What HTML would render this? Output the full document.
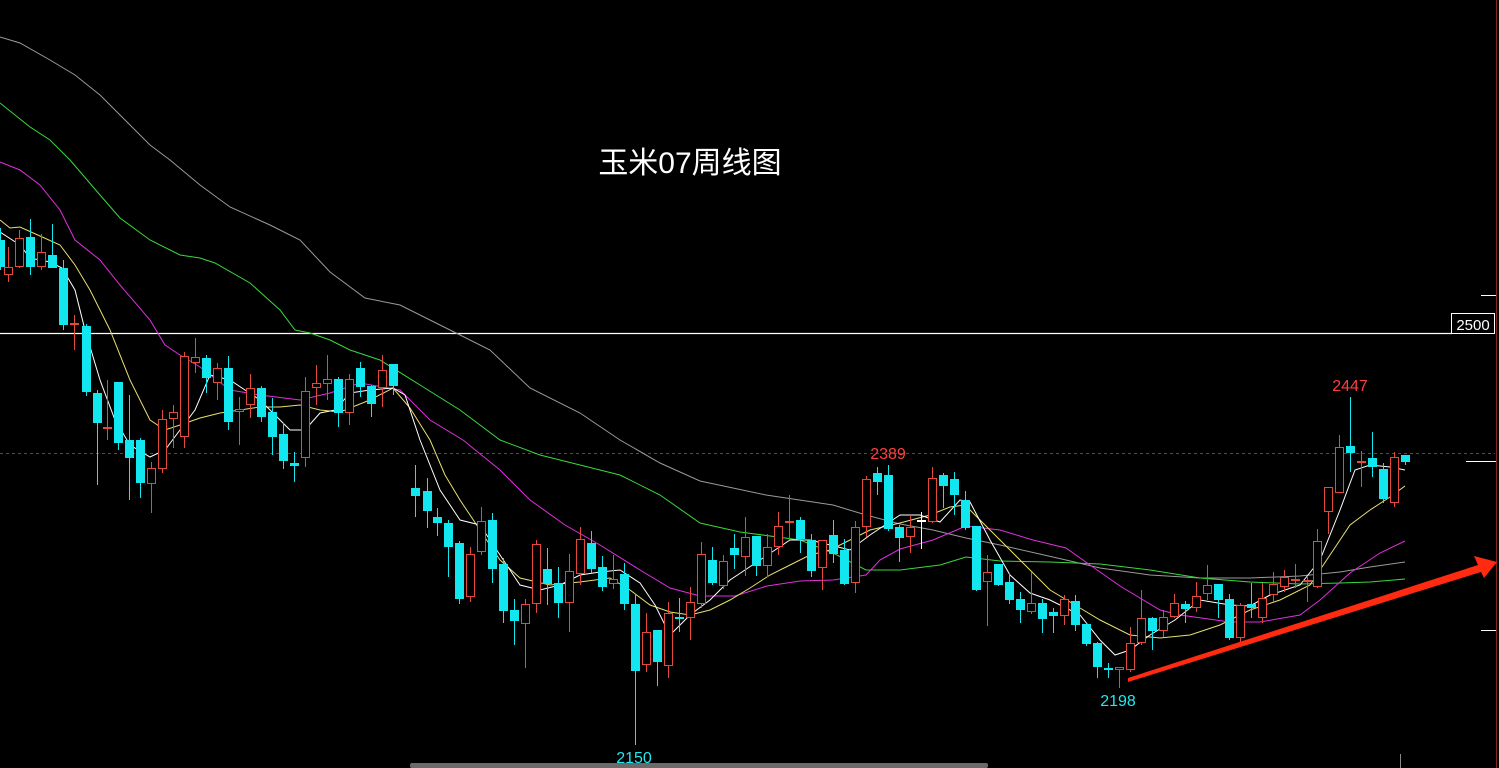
<!DOCTYPE html>
<html><head><meta charset="utf-8">
<style>
html,body{margin:0;padding:0;background:#000;width:1499px;height:768px;overflow:hidden}
svg{display:block}
text{font-family:"Liberation Sans","Noto Sans CJK SC",sans-serif}
</style></head>
<body>
<svg id="s" width="1499" height="768" viewBox="0 0 1499 768" xmlns="http://www.w3.org/2000/svg">
<rect width="1499" height="768" fill="#000"/>
<line x1="0" y1="453.5" x2="1495" y2="453.5" stroke="#b82020" stroke-dasharray="3,3" stroke-width="1"/>
<line x1="0" y1="333.5" x2="1452" y2="333.5" stroke="#fff" stroke-width="1.3"/>
<rect x="1451.5" y="313.5" width="43" height="20" fill="#000" stroke="#fff"/>
<text x="1473" y="330" fill="#fff" font-size="15" text-anchor="middle">2500</text>
<line x1="1496.5" y1="0" x2="1496.5" y2="768" stroke="#8a2020" stroke-width="1"/>
<line x1="1481" y1="295.5" x2="1496" y2="295.5" stroke="#fff"/>
<line x1="1466" y1="461.5" x2="1496" y2="461.5" stroke="#fff"/>
<line x1="1481" y1="630.5" x2="1496" y2="630.5" stroke="#fff"/>
<line x1="1400.5" y1="754" x2="1400.5" y2="768" stroke="#888"/>
<rect x="410" y="763" width="578" height="5" fill="#6a6a6a" rx="2"/>
<g id="ma" fill="none" stroke-width="1"></g>
<g id="cd"></g>
<polygon points="1128,682 1128,678 1478,565 1474,556 1497,562 1484,578 1481,572" fill="#ff2a10"/>
<text x="690" y="173" fill="#fff" font-size="30" text-anchor="middle">玉米07周线图</text>
<text x="888" y="459" fill="#ff4040" font-size="16" text-anchor="middle">2389</text>
<text x="1350" y="391" fill="#ff4040" font-size="16" text-anchor="middle">2447</text>
<text x="1118" y="706" fill="#20e8f0" font-size="16" text-anchor="middle">2198</text>
<text x="634" y="763" fill="#20e8f0" font-size="16" text-anchor="middle">2150</text>
</svg>
<script>
var NS="http://www.w3.org/2000/svg";
var D=[
[0,240,267,228,270,'c'],[8,267,275,247,282,'r'],[19,238,267,230,268,'r'],[30,237,267,219,275,'c'],[41,252,267,234,270,'r'],[52,255,268,224,268,'c'],
[63,268,325,260,330,'c'],[74,323,325,315,350,'r'],[86,326,392,324,396,'c'],[97,393,423,390,485,'c'],[107,427,429,380,440,'r'],[118,382,443,382,450,'c'],
[129,440,458,395,500,'c'],[140,440,483,438,498,'c'],[151,468,484,462,513,'r'],[162,419,469,410,473,'r'],[173,412,419,405,448,'r'],[184,356,437,352,448,'r'],
[195,357,363,338,373,'r'],[206,358,378,355,393,'c'],[217,368,383,363,400,'r'],[228,368,422,356,430,'c'],[239,409,412,397,445,'r'],[250,388,405,374,418,'r'],
[261,388,417,386,422,'c'],[272,412,437,398,455,'c'],[283,434,461,423,469,'c'],[294,463,466,452,482,'c'],[305,391,458,377,467,'r'],[316,383,388,365,405,'r'],
[327,379,384,355,400,'r'],[338,379,413,377,427,'c'],[349,379,413,374,425,'r'],[360,368,387,362,397,'c'],[371,386,404,385,417,'c'],[382,370,388,355,407,'r'],
[393,364,386,364,395,'c'],
[415,488,496,465,517,'c'],[427,491,511,478,528,'c'],[437,517,523,508,536,'c'],[448,523,547,520,577,'c'],[459,543,599,541,604,'c'],[470,554,597,547,602,'r'],
[481,521,552,507,555,'r'],[492,520,569,513,583,'c'],[503,564,611,558,623,'c'],[514,610,621,599,645,'c'],[525,604,624,599,668,'r'],[536,544,604,540,613,'r'],
[547,569,584,548,605,'c'],[558,583,603,567,618,'c'],[569,571,603,554,632,'r'],[580,539,574,527,585,'r'],[591,543,569,531,573,'c'],[602,567,587,556,591,'c'],
[613,579,584,555,589,'r'],[624,574,604,563,610,'c'],[635,604,671,595,745,'c'],[646,632,665,613,672,'r'],[657,630,662,630,686,'c'],[668,613,666,602,678,'r'],
[679,617,619,598,632,'c'],[690,602,618,587,640,'r'],[701,554,604,542,608,'r'],[712,560,583,547,585,'c'],[723,561,586,555,589,'r'],[734,548,555,534,569,'c'],
[745,537,557,517,576,'r'],[756,536,566,536,576,'c'],[767,547,566,534,577,'r'],[778,526,547,512,555,'r'],[789,521,523,495,540,'r'],[800,520,539,517,553,'c'],
[811,540,571,534,577,'c'],[822,540,568,540,590,'r'],[833,535,554,520,563,'c'],[844,550,584,539,585,'c'],[855,527,583,521,593,'r'],[866,479,527,476,537,'r'],
[877,473,482,467,495,'c'],[888,475,529,465,531,'c'],[899,527,538,525,562,'c'],[910,527,537,515,553,'r'],[921,520,522,512,549,'w'],[932,478,522,467,523,'r'],
[943,475,486,473,508,'c'],[954,479,495,472,515,'c'],[965,500,528,491,530,'c'],[976,526,590,526,591,'c'],[987,572,582,555,626,'r'],[998,564,585,564,586,'c'],
[1009,582,600,573,604,'c'],[1020,599,610,592,623,'c'],[1031,603,612,572,614,'r'],[1042,603,619,599,633,'c'],[1053,612,616,608,633,'c'],[1064,599,616,595,625,'r'],
[1075,601,625,595,631,'c'],[1086,624,644,623,646,'c'],[1097,643,667,642,678,'c'],[1108,668,670,663,678,'c'],[1119,667,670,667,688,'r'],[1130,643,670,627,672,'r'],
[1141,618,643,590,645,'r'],[1152,618,631,617,650,'c'],[1163,617,631,610,637,'r'],[1174,603,617,594,618,'r'],[1185,604,609,601,623,'c'],[1196,596,608,582,612,'r'],
[1207,585,594,565,600,'r'],[1218,584,600,584,618,'c'],[1229,599,638,594,640,'c'],[1240,605,638,603,643,'r'],[1251,604,608,583,618,'c'],[1262,598,618,583,623,'r'],
[1273,584,595,572,602,'r'],[1284,577,587,570,592,'r'],[1295,579,581,564,588,'r'],[1307,580,582,577,602,'r'],[1317,541,587,529,588,'r'],[1328,487,512,487,534,'r'],
[1339,447,493,435,493,'r'],[1350,446,453,397,472,'c'],[1361,461,463,451,487,'r'],[1372,458,467,432,477,'c'],[1383,469,499,463,503,'c'],[1394,457,503,452,507,'r'],
[1405,455,462,455,465,'c']];
var cd=document.getElementById('cd');
function el(t,a){var e=document.createElementNS(NS,t);for(var k in a)e.setAttribute(k,a[k]);cd.appendChild(e);}
D.forEach(function(d){var x=d[0],t=d[1],b=d[2],h=d[3],l=d[4],c=d[5];
var col=c=='r'?'#e4493c':(c=='w'?'#fff':'#12e6ee');
el('line',{x1:x+.5,x2:x+.5,y1:h,y2:l,stroke:col,'stroke-width':1});
if(b-t<2){el('rect',{x:x-4,y:t,width:9,height:2,fill:col});}
else if(c=='r'){el('rect',{x:x-3.5,y:t+.5,width:8,height:b-t-1,fill:'#000',stroke:col,'stroke-width':1});}
else{el('rect',{x:x-4,y:t,width:9,height:b-t,fill:col});}
});
var MA={
'#9a9a9a':[[0,37],[20,43],[50,60],[75,75],[100,95],[125,120],[150,145],[170,160],[200,185],[230,207],[270,225],[300,240],[330,272],[365,298],[400,305],[430,320],[460,335],[490,350],[530,388],[580,413],[620,440],[660,463],[700,481],[766,495],[833,505],[866,515],[900,524],[933,530],[966,538],[1000,545],[1066,560],[1100,568],[1150,575],[1200,578],[1250,578],[1300,576],[1340,572],[1370,567],[1405,562]],
'#3ad83a':[[0,103],[30,127],[50,140],[70,160],[100,195],[120,218],[150,240],[180,255],[200,258],[215,263],[250,283],[280,310],[295,330],[310,333],[330,340],[350,350],[380,360],[420,385],[460,410],[500,440],[540,455],[580,465],[620,475],[660,495],[700,523],[740,532],[800,540],[833,553],[866,570],[900,570],[940,565],[966,557],[1000,561],[1050,562],[1100,564],[1150,570],[1200,578],[1250,582],[1300,584],[1340,583],[1370,582],[1405,579]],
'#e030e0':[[0,162],[20,170],[40,185],[60,210],[75,240],[100,260],[120,285],[150,320],[165,345],[180,355],[200,367],[230,390],[260,395],[300,400],[330,393],[360,383],[400,390],[430,420],[463,440],[500,470],[530,500],[565,525],[600,545],[640,570],[670,588],[700,596],[735,596],[767,586],[800,581],[833,580],[866,575],[880,560],[900,549],[933,540],[966,526],[1000,530],[1033,540],[1066,548],[1090,565],[1120,586],[1160,610],[1180,615],[1230,622],[1260,622],[1300,615],[1320,600],[1350,573],[1380,553],[1405,541]],
'#e8e070':[[0,220],[10,228],[20,227],[40,236],[60,245],[75,265],[90,290],[110,330],[130,380],[150,420],[165,430],[180,425],[200,418],[220,413],[240,410],[260,407],[280,407],[300,405],[320,410],[340,412],[370,400],[393,388],[410,408],[430,440],[445,475],[460,500],[480,530],[500,560],[520,578],[550,585],[580,582],[610,578],[630,590],[650,605],[670,612],[690,615],[710,610],[730,600],[750,588],[770,575],[790,565],[810,555],[830,550],[850,540],[870,530],[900,523],[930,515],[950,507],[965,505],[980,520],[1000,540],[1020,560],[1050,590],[1080,608],[1100,620],[1130,635],[1160,638],[1190,635],[1220,625],[1250,610],[1280,600],[1310,585],[1330,555],[1350,525],[1370,510],[1390,497],[1405,486]],
'#ffffff':[[0,232],[20,245],[30,258],[50,262],[62,268],[75,290],[85,330],[100,380],[115,420],[130,445],[150,457],[165,450],[180,430],[195,410],[210,375],[230,380],[245,390],[260,400],[275,415],[290,430],[305,430],[320,413],[335,410],[350,393],[370,390],[393,388],[405,395],[420,440],[440,490],[460,520],[480,525],[500,555],[520,585],[540,590],[560,585],[580,575],[600,572],[620,570],[640,583],[655,605],[670,635],[690,615],[710,600],[730,580],[760,560],[790,540],[810,540],[830,545],[850,550],[870,535],[900,515],[920,515],[940,522],[960,500],[970,502],[990,540],[1010,575],[1030,593],[1050,600],[1080,615],[1100,640],[1115,655],[1130,650],[1150,635],[1175,620],[1200,600],[1230,605],[1250,606],[1270,595],[1300,585],[1320,560],[1340,510],[1355,470],[1370,465],[1390,467],[1405,470]]};
var ma=document.getElementById('ma');
for(var c in MA){var p=document.createElementNS(NS,'polyline');p.setAttribute('points',MA[c].map(function(q){return q.join(',')}).join(' '));p.setAttribute('stroke',c);ma.appendChild(p);}
</script>
</body></html>
